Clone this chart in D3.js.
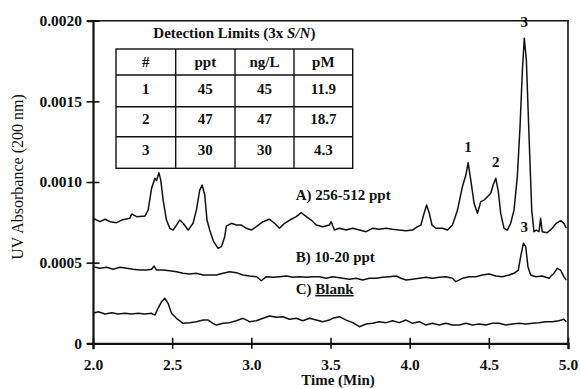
<!DOCTYPE html>
<html>
<head>
<meta charset="utf-8">
<script src="https://cdn.jsdelivr.net/npm/d3@7"></script>
<style>
  html, body { margin: 0; padding: 0; background: #fff; }
  svg { display: block; }
  text { font-family: "Liberation Serif", "Times New Roman", serif; fill: #111; }
</style>
</head>
<body>
<svg id="chart" width="580" height="388" font-family="Liberation Serif"></svg>
<script>
// Chromatogram traces: retention time (min) and UV absorbance (units of 1e-4 AU)
const timeA = [2.000,2.044,2.076,2.107,2.149,2.181,2.233,2.244,2.275,2.328,2.348,2.370,2.391,2.401,2.416,2.428,2.443,2.464,2.485,2.506,2.527,2.548,2.569,2.601,2.632,2.653,2.674,2.689,2.706,2.720,2.737,2.762,2.790,2.811,2.832,2.842,2.874,2.905,2.937,2.969,3.000,3.032,3.073,3.115,3.147,3.178,3.210,3.252,3.284,3.315,3.347,3.378,3.410,3.451,3.493,3.504,3.525,3.556,3.599,3.640,3.683,3.725,3.766,3.808,3.851,3.892,3.934,3.977,4.018,4.050,4.071,4.088,4.107,4.124,4.141,4.166,4.207,4.239,4.270,4.281,4.302,4.333,4.355,4.369,4.386,4.407,4.428,4.449,4.470,4.491,4.512,4.527,4.544,4.560,4.575,4.596,4.617,4.638,4.659,4.680,4.697,4.712,4.724,4.737,4.754,4.771,4.785,4.800,4.817,4.827,4.837,4.869,4.900,4.926,4.953,4.974,4.989];
const absA  = [7.75,7.54,7.69,7.54,7.48,7.64,7.75,8.02,7.85,7.89,8.26,9.61,10.23,10.08,10.58,10.12,8.88,7.64,7.13,7.02,7.33,7.64,7.44,7.02,7.44,8.26,9.50,9.81,9.19,7.64,7.02,6.30,5.89,5.99,6.61,7.27,7.44,7.33,7.33,7.13,7.02,7.23,7.54,7.69,7.44,7.13,7.44,7.69,7.85,8.10,7.85,7.64,7.33,7.23,7.33,7.54,7.02,7.13,7.02,7.13,7.02,6.92,7.13,7.07,7.13,7.07,7.02,6.98,7.02,7.23,7.33,7.95,8.57,8.06,7.33,7.13,7.13,7.02,7.33,7.64,8.26,9.71,10.43,11.20,10.12,8.68,8.06,8.78,8.88,9.09,9.30,9.81,10.23,9.40,8.06,7.13,7.02,7.44,8.26,10.33,13.43,16.94,18.91,17.56,12.81,8.26,6.92,7.02,6.92,7.75,6.92,6.86,7.13,7.44,7.60,7.44,7.13];

const timeB = [2.000,2.044,2.086,2.128,2.170,2.212,2.254,2.296,2.338,2.370,2.386,2.401,2.443,2.485,2.527,2.569,2.611,2.653,2.695,2.737,2.779,2.821,2.863,2.905,2.947,2.989,3.032,3.063,3.095,3.136,3.178,3.221,3.262,3.304,3.347,3.388,3.430,3.473,3.514,3.536,3.577,3.619,3.662,3.703,3.745,3.788,3.829,3.871,3.914,3.945,3.977,4.018,4.061,4.103,4.144,4.187,4.229,4.270,4.292,4.333,4.376,4.418,4.459,4.502,4.544,4.585,4.628,4.659,4.686,4.701,4.718,4.733,4.747,4.764,4.796,4.837,4.880,4.911,4.932,4.953,4.974,4.989];
const absB  = [4.75,4.65,4.71,4.59,4.71,4.65,4.59,4.54,4.54,4.59,4.79,4.54,4.54,4.50,4.44,4.34,4.30,4.34,4.23,4.23,4.23,4.34,4.44,4.38,4.23,4.17,4.13,3.88,4.13,4.09,4.13,4.17,4.09,4.13,4.09,4.13,4.13,4.03,4.13,4.09,4.03,3.97,4.03,3.92,4.03,4.03,4.09,4.13,4.17,4.03,3.92,3.97,4.03,4.09,4.03,4.09,4.13,4.03,3.82,4.03,4.13,4.13,4.23,4.30,4.17,4.13,4.23,4.34,4.54,5.37,6.20,5.99,4.75,4.23,4.13,4.17,4.03,4.34,4.65,4.54,4.13,3.92];

const timeC = [2.000,2.033,2.076,2.118,2.159,2.202,2.244,2.285,2.328,2.370,2.391,2.411,2.433,2.454,2.474,2.496,2.527,2.569,2.611,2.653,2.695,2.727,2.758,2.779,2.821,2.863,2.905,2.947,2.989,3.032,3.073,3.115,3.158,3.199,3.241,3.284,3.325,3.367,3.410,3.451,3.493,3.514,3.556,3.599,3.640,3.683,3.725,3.766,3.808,3.851,3.892,3.934,3.977,4.018,4.061,4.103,4.144,4.187,4.229,4.270,4.313,4.355,4.397,4.439,4.481,4.522,4.565,4.607,4.649,4.691,4.733,4.775,4.817,4.859,4.900,4.943,4.974,4.989];
const absC  = [1.86,1.96,1.82,1.90,1.82,1.86,1.82,1.86,1.82,1.86,1.75,2.17,2.58,2.79,2.48,1.86,1.55,1.24,1.28,1.34,1.44,1.44,1.24,1.13,1.24,1.28,1.40,1.55,1.34,1.40,1.55,1.69,1.61,1.65,1.49,1.55,1.40,1.55,1.44,1.34,1.44,1.55,1.65,1.44,1.28,1.03,1.20,1.24,1.34,1.28,1.40,1.28,1.44,1.24,1.34,1.13,1.24,1.13,1.24,1.13,1.13,1.24,1.13,1.20,1.13,1.24,1.24,1.13,1.20,1.24,1.20,1.24,1.28,1.34,1.34,1.40,1.49,1.34];

// Trace labels
const traceLabels = ["A) 256-512 ppt", "B) 10-20 ppt", "C) ", "Blank"];
const peakLabels = ["1", "2", "3", "3"];
const peakTimes  = [4.369, 4.544, 4.724, 4.724];
const peakAbs    = [11.20, 10.23, 18.91, 6.20];

// Axis ticks
const xTicks = [2.0, 2.5, 3.0, 3.5, 4.0, 4.5, 5.0];
const yTicks = [0, 0.0005, 0.0010, 0.0015, 0.0020];
const yTickLabels = ["0", "0.0005", "0.0010", "0.0015", "0.0020"];

// Detection limits table
const tableTitle = ["Detection Limits (3x ", "S/N", ")"];
const tableHeader = ["#", "ppt", "ng/L", "pM"];
const tableRows = [
  ["1", "45", "45", "11.9"],
  ["2", "47", "47", "18.7"],
  ["3", "30", "30", "4.3"]
];

const svg = d3.select("#chart");
const plotLeft = 93, plotRight = 568, plotTop = 20.7, plotBottom = 343.3;
const serif = "Liberation Serif";

const x = d3.scaleLinear().domain([2, 5]).range([plotLeft, plotRight]);
const y = d3.scaleLinear().domain([0, 0.002]).range([plotBottom, plotTop]);
const u = 1e-4;

// Frame (top and right borders)
svg.append("path")
  .attr("d", `M${plotLeft},${plotTop}H${plotRight}V${plotBottom}`)
  .attr("fill", "none").attr("stroke", "#111").attr("stroke-width", 1.6);

// Traces
const line = d3.line().x(d => x(d[0])).y(d => y(d[1] * u));
[[timeA, absA], [timeB, absB], [timeC, absC]].forEach(([t, a]) => {
  svg.append("path")
    .datum(d3.zip(t, a))
    .attr("d", line)
    .attr("fill", "none")
    .attr("stroke", "#111")
    .attr("stroke-width", 1.5)
    .attr("stroke-linejoin", "round");
});

// X axis
const gx = svg.append("g")
  .attr("transform", `translate(0,${plotBottom})`)
  .call(d3.axisBottom(x).tickValues(xTicks).tickFormat(d3.format(".1f")).tickSize(6).tickPadding(10));
gx.attr("font-family", serif);
gx.select(".domain").attr("stroke", "#111").attr("stroke-width", 2.2);
gx.selectAll(".tick line").attr("y1", -5.5).attr("y2", 5.5).attr("stroke", "#111").attr("stroke-width", 1.6);
gx.selectAll(".tick text").attr("font-weight", "bold").attr("font-size", 15.5).attr("fill", "#111");

// Y axis
const gy = svg.append("g")
  .attr("transform", `translate(${plotLeft},0)`)
  .call(d3.axisLeft(y).tickValues(yTicks).tickFormat((d, i) => yTickLabels[i]).tickSize(6).tickPadding(5));
gy.attr("font-family", serif);
gy.select(".domain").attr("stroke", "#111").attr("stroke-width", 2.2);
gy.selectAll(".tick line").attr("x1", -6.5).attr("x2", 6.5).attr("stroke", "#111").attr("stroke-width", 1.6);
gy.selectAll(".tick text").attr("font-weight", "bold").attr("font-size", 15.5).attr("fill", "#111");

// Axis titles
svg.append("text")
  .attr("transform", "translate(23,177) rotate(-90)")
  .attr("text-anchor", "middle")
  .attr("font-size", 16)
  .text("UV Absorbance (200 nm)");
svg.append("text")
  .attr("x", 338).attr("y", 385)
  .attr("text-anchor", "middle")
  .attr("font-size", 15)
  .attr("font-weight", "bold")
  .text("Time (Min)");

// Trace labels
const labelPos = [[3.28, 8.9], [3.28, 5.06], [3.28, 3.06]];
svg.append("text").attr("x", x(labelPos[0][0])).attr("y", y(labelPos[0][1] * u))
  .attr("font-size", 15).attr("font-weight", "bold").text(traceLabels[0]);
svg.append("text").attr("x", x(labelPos[1][0])).attr("y", y(labelPos[1][1] * u))
  .attr("font-size", 15).attr("font-weight", "bold").text(traceLabels[1]);
const tc = svg.append("text").attr("x", x(labelPos[2][0])).attr("y", y(labelPos[2][1] * u))
  .attr("font-size", 15).attr("font-weight", "bold");
tc.append("tspan").text(traceLabels[2]);
tc.append("tspan").attr("text-decoration", "underline").text(traceLabels[3]);

// Peak numbers
svg.selectAll("text.peak")
  .data(peakLabels)
  .join("text")
  .attr("class", "peak")
  .attr("x", (d, i) => x(peakTimes[i]))
  .attr("y", (d, i) => y(peakAbs[i] * u) - 11)
  .attr("text-anchor", "middle")
  .attr("font-size", 15)
  .attr("font-weight", "bold")
  .text(d => d);

// Detection limits table
const colX = [116, 175.7, 235, 294, 352.7];
const rowY = [49, 75, 106.7, 136.7, 168.3];
const tbl = svg.append("g");
tbl.append("rect")
  .attr("x", colX[0]).attr("y", rowY[0])
  .attr("width", colX[4] - colX[0]).attr("height", rowY[4] - rowY[0])
  .attr("fill", "#fff").attr("stroke", "#111").attr("stroke-width", 1.4);
colX.slice(1, 4).forEach(cx => tbl.append("line")
  .attr("x1", cx).attr("x2", cx).attr("y1", rowY[0]).attr("y2", rowY[4])
  .attr("stroke", "#111").attr("stroke-width", 1.4));
rowY.slice(1, 4).forEach(ry => tbl.append("line")
  .attr("x1", colX[0]).attr("x2", colX[4]).attr("y1", ry).attr("y2", ry)
  .attr("stroke", "#111").attr("stroke-width", 1.4));

const title = tbl.append("text")
  .attr("x", (colX[0] + colX[4]) / 2).attr("y", 37.5)
  .attr("text-anchor", "middle").attr("font-size", 15).attr("font-weight", "bold");
title.append("tspan").text(tableTitle[0]);
title.append("tspan").attr("font-style", "italic").text(tableTitle[1]);
title.append("tspan").text(tableTitle[2]);

const baseY = [67, 93.5, 123.5, 155];
[tableHeader, ...tableRows].forEach((row, r) => {
  row.forEach((cell, c) => {
    tbl.append("text")
      .attr("x", (colX[c] + colX[c + 1]) / 2)
      .attr("y", baseY[r])
      .attr("text-anchor", "middle")
      .attr("font-size", 15)
      .attr("font-weight", "bold")
      .text(cell);
  });
});
</script>
</body>
</html>
